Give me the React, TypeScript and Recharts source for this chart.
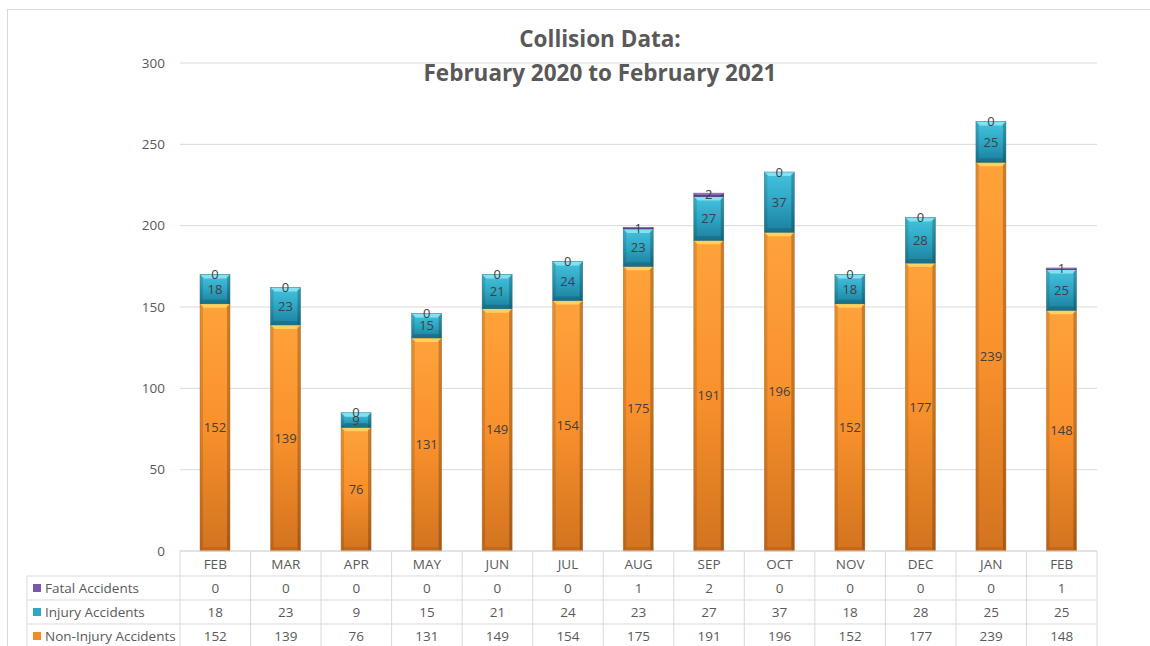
import React from "react";
import { BarChart, Bar, XAxis, YAxis, CartesianGrid, LabelList } from "recharts";

const months = ["FEB", "MAR", "APR", "MAY", "JUN", "JUL", "AUG", "SEP", "OCT", "NOV", "DEC", "JAN", "FEB"];
const fatal = [0, 0, 0, 0, 0, 0, 1, 2, 0, 0, 0, 0, 1];
const injury = [18, 23, 9, 15, 21, 24, 23, 27, 37, 18, 28, 25, 25];
const nonInjury = [152, 139, 76, 131, 149, 154, 175, 191, 196, 152, 177, 239, 148];
const yTicks = [0, 50, 100, 150, 200, 250, 300];

const data = months.map((m, i) => ({
  key: `${m}-${i}`,
  month: m,
  fatal: fatal[i],
  injury: injury[i],
  nonInjury: nonInjury[i],
}));

const W = 1150;
const H = 646;
const PLOT_L = 180;
const PLOT_R = 1097;
const FONT = "'Open Sans', 'Noto Sans', sans-serif";
const TXT = "#595959";
const LINE = "#D9D9D9";

const palettes: Record<string, { top: string; mid: string; bot: string; bevel: string; edge: string }> = {
  orange: { top: "#FFA23A", mid: "#F8912C", bot: "#D2731F", bevel: "#FFD565", edge: "#B8621A" },
  teal: { top: "#45C3DE", mid: "#2EA6C4", bot: "#1C7F9C", bevel: "#8BE6F4", edge: "#16677F" },
  purple: { top: "#9573C4", mid: "#7B58AB", bot: "#5E3F8A", bevel: "#B9A0DD", edge: "#4B2F72" },
};

const makeShape = (name: string) => (props: any) => {
  const { x, y, width, height } = props;
  if (!height || height <= 0) return <g />;
  const p = palettes[name];
  const gid = `grad-${name}`;
  const b = Math.min(4, height / 3);
  return (
    <g>
      <defs>
        <linearGradient id={gid} x1="0" y1="0" x2="0" y2="1">
          <stop offset="0%" stopColor={p.top} />
          <stop offset="50%" stopColor={p.mid} />
          <stop offset="100%" stopColor={p.bot} />
        </linearGradient>
      </defs>
      <rect x={x} y={y} width={width} height={height} fill={`url(#${gid})`} />
      <rect x={x} y={y} width={3} height={height} fill="#000" opacity={0.12} />
      <rect x={x + width - 3} y={y} width={3} height={height} fill="#000" opacity={0.22} />
      <polygon
        points={`${x},${y} ${x + width},${y} ${x + width - b},${y + b} ${x + b},${y + b}`}
        fill={p.bevel}
        opacity={0.9}
      />
      <polygon
        points={`${x},${y + height} ${x + width},${y + height} ${x + width - b},${y + height - b} ${x + b},${y + height - b}`}
        fill={p.edge}
        opacity={0.6}
      />
      <rect x={x} y={y} width={width} height={height} fill="none" stroke={p.edge} strokeWidth={0.6} opacity={0.7} />
    </g>
  );
};

const rowsLegend = [
  { label: "Fatal Accidents", color: "#7B58AB", values: fatal },
  { label: "Injury Accidents", color: "#2EA6C4", values: injury },
  { label: "Non-Injury Accidents", color: "#F08A2A", values: nonInjury },
];

const CELL_W = (PLOT_R - PLOT_L) / months.length;
const HEADER_H = 25;
const ROW_H = 24;

const TableTick = (props: any) => {
  const { x, y, index } = props;
  const top = y;
  const left = x - CELL_W / 2;
  const right = x + CELL_W / 2;
  const bottom = top + HEADER_H + ROW_H * 3;
  const i = index;
  return (
    <g fontFamily={FONT} fontSize={13.5} fill={TXT}>
      <line x1={left} y1={top} x2={left} y2={bottom} stroke={LINE} />
      {i === months.length - 1 && <line x1={right} y1={top} x2={right} y2={bottom} stroke={LINE} />}
      <line x1={left} y1={top} x2={right} y2={top} stroke={LINE} />
      <text x={x} y={top + HEADER_H / 2} textAnchor="middle" dominantBaseline="central" fill={TXT}>
        {months[i]}
      </text>
      {rowsLegend.map((r, k) => {
        const ry = top + HEADER_H + ROW_H * k;
        return (
          <g key={k}>
            <line x1={left} y1={ry} x2={right} y2={ry} stroke={LINE} />
            <text x={x} y={ry + ROW_H / 2} textAnchor="middle" dominantBaseline="central" fill={TXT}>
              {r.values[i]}
            </text>
          </g>
        );
      })}
      {i === 0 && (
        <g>
          <line x1={27} y1={top + HEADER_H} x2={27} y2={bottom} stroke={LINE} />
          {rowsLegend.map((r, k) => {
            const ry = top + HEADER_H + ROW_H * k;
            return (
              <g key={`lg${k}`}>
                <line x1={27} y1={ry} x2={left} y2={ry} stroke={LINE} />
                <rect x={33} y={ry + ROW_H / 2 - 4} width={8} height={8} fill={r.color} />
                <text x={45} y={ry + ROW_H / 2} dominantBaseline="central" fill={TXT}>
                  {r.label}
                </text>
              </g>
            );
          })}
        </g>
      )}
    </g>
  );
};

const labelStyle = { fill: "#404040", fontSize: 13, fontFamily: FONT };

export default function App() {
  return (
    <div style={{ position: "absolute", left: 0, top: 0, width: W, height: H, background: "#fff" }}>
      <svg width={W} height={H} style={{ position: "absolute", left: 0, top: 0 }}>
        <rect x={7.5} y={9.5} width={W + 10} height={H + 10} fill="none" stroke="#D9D9D9" />
      </svg>
      <div style={{ position: "absolute", left: 0, top: 0 }}>
        <BarChart
          width={W}
          height={H}
          data={data}
          margin={{ top: 63, right: W - PLOT_R, left: 0, bottom: 0 }}
          barSize={30}
        >
          <text
            x={600}
            y={38}
            textAnchor="middle"
            dominantBaseline="central"
            fontFamily={FONT}
            fontSize={22.5}
            fontWeight="bold"
            fill={TXT}
          >
            Collision Data:
          </text>
          <text
            x={600}
            y={72}
            textAnchor="middle"
            dominantBaseline="central"
            fontFamily={FONT}
            fontSize={22.5}
            fontWeight="bold"
            fill={TXT}
          >
            February 2020 to February 2021
          </text>
          <CartesianGrid vertical={false} stroke={LINE} />
          <XAxis
            dataKey="key"
            height={95}
            axisLine={false}
            tickLine={false}
            tickSize={0}
            tickMargin={0}
            interval={0}
            tick={<TableTick />}
          />
          <YAxis
            width={PLOT_L}
            domain={[0, 300]}
            ticks={yTicks}
            axisLine={false}
            tickLine={false}
            tickSize={0}
            tickMargin={15}
            tick={{ fill: TXT, fontSize: 13.5, fontFamily: FONT }}
          />
          <Bar dataKey="nonInjury" stackId="a" isAnimationActive={false} shape={makeShape("orange")}>
            <LabelList dataKey="nonInjury" position="center" style={labelStyle} />
          </Bar>
          <Bar dataKey="injury" stackId="a" isAnimationActive={false} shape={makeShape("teal")}>
            <LabelList dataKey="injury" position="center" style={labelStyle} />
          </Bar>
          <Bar dataKey="fatal" stackId="a" isAnimationActive={false} shape={makeShape("purple")}>
            <LabelList dataKey="fatal" position="center" style={labelStyle} />
          </Bar>
        </BarChart>
      </div>
    </div>
  );
}
